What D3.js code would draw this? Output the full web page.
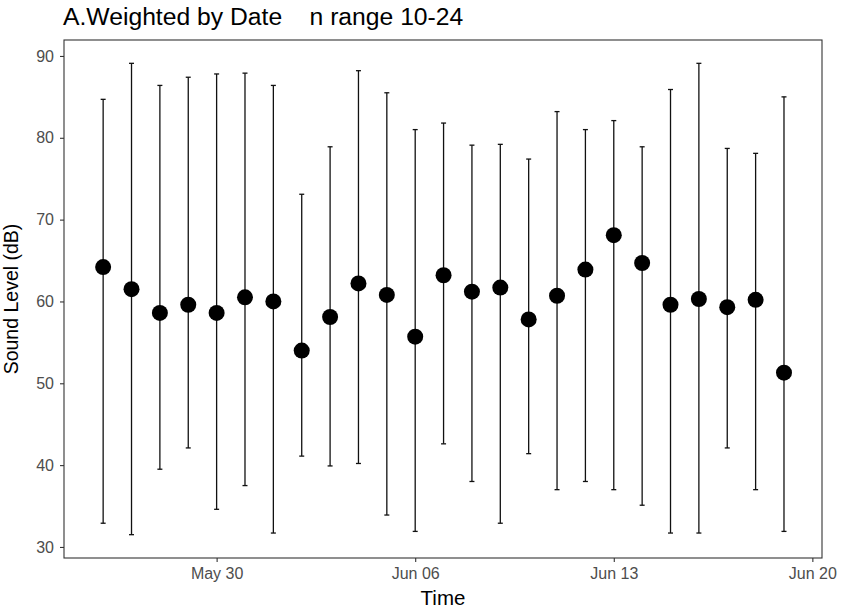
<!DOCTYPE html>
<html>
<head>
<meta charset="utf-8">
<title>Weighted by Date</title>
<script src="https://cdn.jsdelivr.net/npm/d3@7"></script>
<style>
  body { margin: 0; background: #fff; }
  svg { font-family: "Liberation Sans", Arial, sans-serif; }
</style>
</head>
<body>
<div id="chart"></div>
<script>
// one entry per day, May 26 .. Jun 19
const dates = ["2023-05-26","2023-05-27","2023-05-28","2023-05-29","2023-05-30","2023-05-31",
  "2023-06-01","2023-06-02","2023-06-03","2023-06-04","2023-06-05","2023-06-06","2023-06-07",
  "2023-06-08","2023-06-09","2023-06-10","2023-06-11","2023-06-12","2023-06-13","2023-06-14",
  "2023-06-15","2023-06-16","2023-06-17","2023-06-18","2023-06-19"];
const meanLevel = [64.2, 61.5, 58.6, 59.6, 58.6, 60.5, 60.0, 54.0, 58.1, 62.2, 60.8, 55.7, 63.2,
  61.2, 61.7, 57.8, 60.7, 63.9, 68.1, 64.7, 59.6, 60.3, 59.3, 60.2, 51.3];
const upperLevel = [84.7, 89.1, 86.4, 87.4, 87.8, 87.9, 86.4, 73.1, 78.9, 88.2, 85.5, 81.0, 81.8,
  79.1, 79.2, 77.4, 83.2, 81.0, 82.1, 78.9, 85.9, 89.1, 78.7, 78.1, 85.0];
const lowerLevel = [32.9, 31.5, 39.5, 42.1, 34.6, 37.5, 31.7, 41.1, 39.9, 40.2, 33.9, 31.9, 42.6,
  38.0, 32.9, 41.4, 37.0, 38.0, 37.0, 35.1, 31.7, 31.7, 42.1, 37.0, 31.9];
const xTicks = ["2023-05-30", "2023-06-06", "2023-06-13", "2023-06-20"];
const yTicks = [30, 40, 50, 60, 70, 80, 90];

const width = 844, height = 612;
const margin = {top: 40, right: 22, bottom: 54, left: 64};
const parse = d3.utcParse("%Y-%m-%d");
const day = 864e5;

const rows = dates.map((d, i) => ({
  date: parse(d), mean: meanLevel[i], hi: upperLevel[i], lo: lowerLevel[i]
}));

const svg = d3.select("#chart").append("svg")
  .attr("width", width).attr("height", height);

const x = d3.scaleUtc()
  .domain([new Date(+parse("2023-05-26") - 1.38 * day), new Date(+parse("2023-06-19") + 1.34 * day)])
  .range([margin.left, width - margin.right]);
const y = d3.scaleLinear()
  .domain([28.65, 91.95])
  .range([height - margin.bottom, margin.top]);

// error bars
const bars = svg.append("g").attr("stroke", "#111").attr("stroke-width", 1.3);
bars.selectAll("line.v").data(rows).join("line").attr("class", "v")
  .attr("x1", d => x(d.date)).attr("x2", d => x(d.date))
  .attr("y1", d => y(d.lo)).attr("y2", d => y(d.hi));
bars.selectAll("line.top").data(rows).join("line").attr("class", "top")
  .attr("x1", d => x(d.date) - 2.5).attr("x2", d => x(d.date) + 2.5)
  .attr("y1", d => y(d.hi)).attr("y2", d => y(d.hi));
bars.selectAll("line.bot").data(rows).join("line").attr("class", "bot")
  .attr("x1", d => x(d.date) - 2.5).attr("x2", d => x(d.date) + 2.5)
  .attr("y1", d => y(d.lo)).attr("y2", d => y(d.lo));

svg.append("g").selectAll("circle").data(rows).join("circle")
  .attr("cx", d => x(d.date)).attr("cy", d => y(d.mean))
  .attr("r", 8).attr("fill", "#000");

// panel border
svg.append("rect")
  .attr("x", margin.left).attr("y", margin.top)
  .attr("width", width - margin.left - margin.right)
  .attr("height", height - margin.top - margin.bottom)
  .attr("fill", "none").attr("stroke", "#333").attr("stroke-width", 1.1);

const fmt = d3.utcFormat("%b %d");
const xAxis = svg.append("g")
  .attr("transform", `translate(0,${height - margin.bottom})`)
  .call(d3.axisBottom(x).tickValues(xTicks.map(parse)).tickFormat(fmt).tickSize(4).tickPadding(6));
const yAxis = svg.append("g")
  .attr("transform", `translate(${margin.left},0)`)
  .call(d3.axisLeft(y).tickValues(yTicks).tickSize(4).tickPadding(6));

[xAxis, yAxis].forEach(g => {
  g.select(".domain").remove();
  g.selectAll(".tick line").attr("stroke", "#333").attr("stroke-width", 1.1);
  g.selectAll(".tick text").attr("fill", "#4d4d4d")
    .style("font-size", "16px").style("font-family", "Liberation Sans, Arial, sans-serif");
});

svg.append("text")
  .attr("x", 63).attr("y", 25)
  .style("font-size", "24.7px").style("white-space", "pre")
  .text("A.Weighted by Date    n range 10-24");

svg.append("text")
  .attr("x", (margin.left + width - margin.right) / 2).attr("y", 605)
  .attr("text-anchor", "middle").style("font-size", "20.5px")
  .text("Time");

svg.append("text")
  .attr("transform", `translate(18,${(margin.top + height - margin.bottom) / 2}) rotate(-90)`)
  .attr("text-anchor", "middle").style("font-size", "19.5px")
  .text("Sound Level (dB)");
</script>
</body>
</html>
